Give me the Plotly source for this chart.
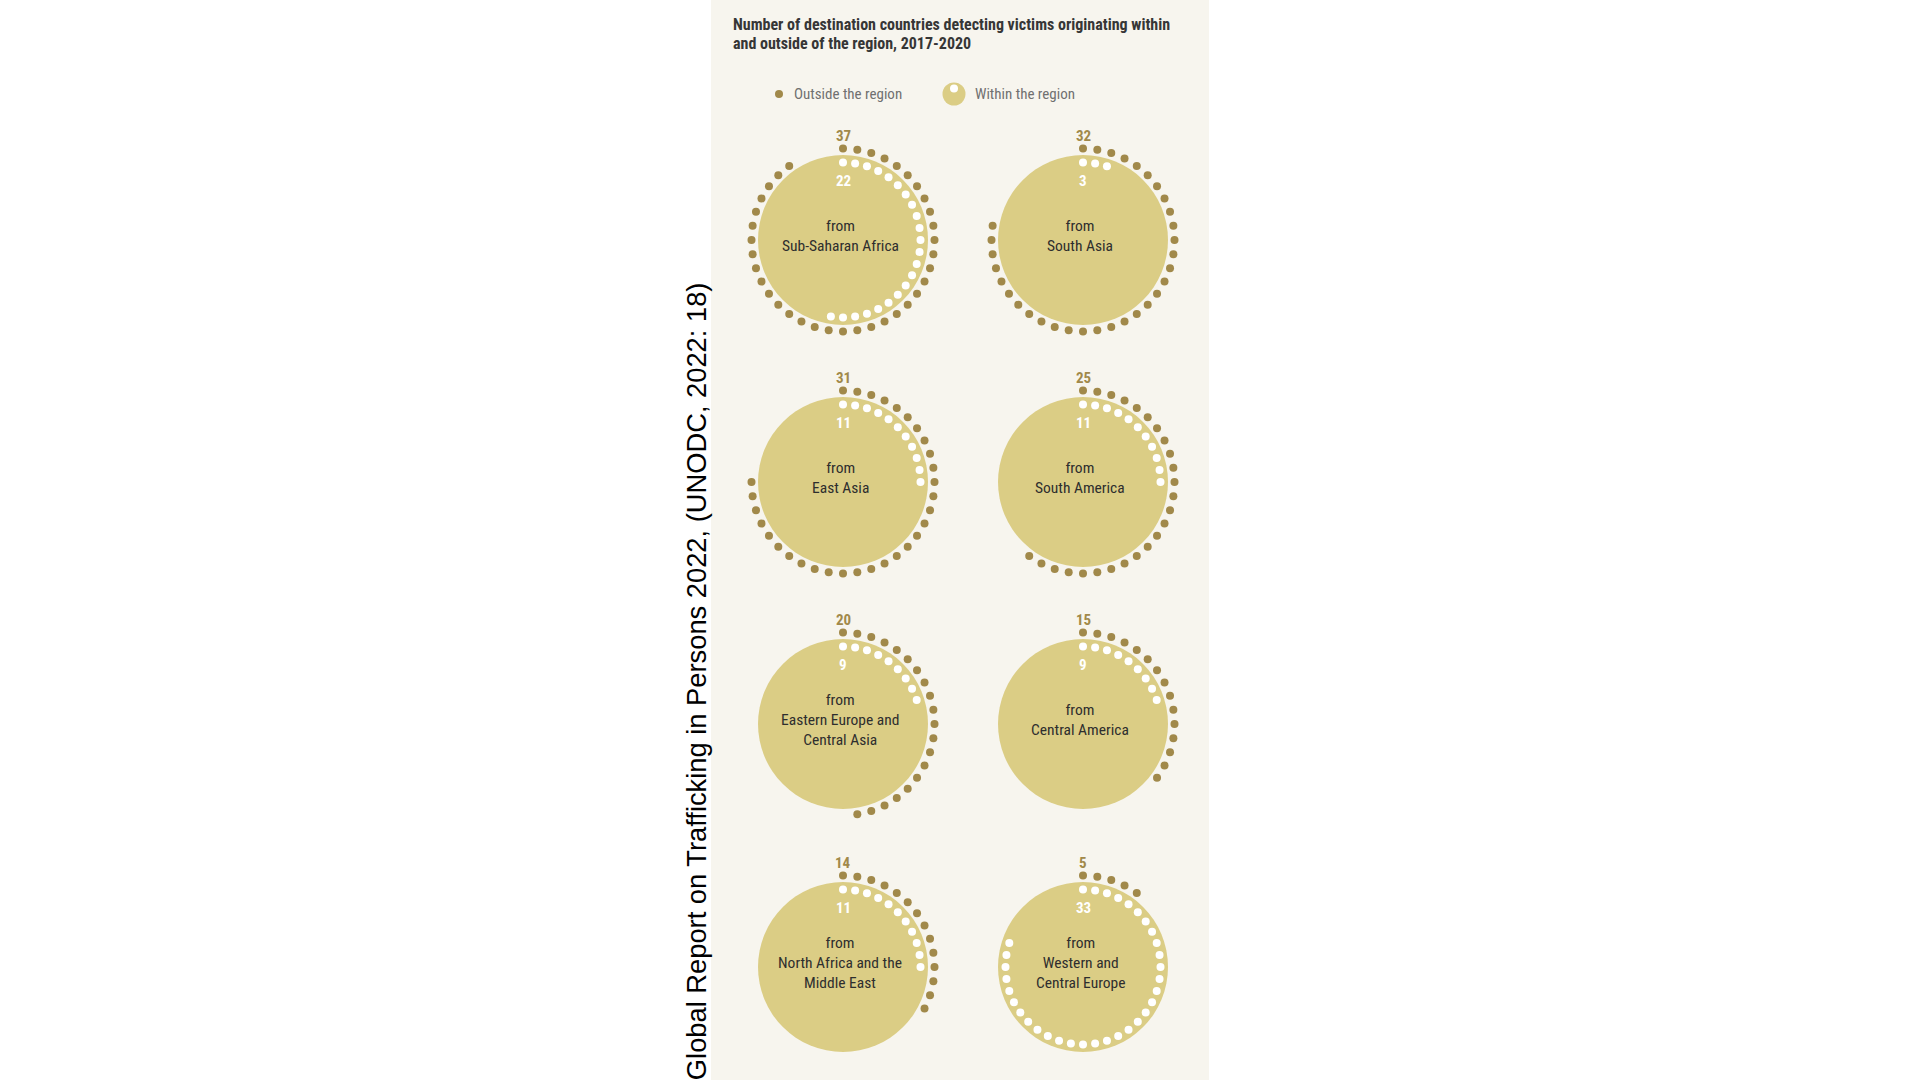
import math
import plotly.graph_objects as go

# ---------------- data ----------------
regions = [
    "from<br>Sub-Saharan Africa",
    "from<br>South Asia",
    "from<br>East Asia",
    "from<br>South America",
    "from<br>Eastern Europe and<br>Central Asia",
    "from<br>Central America",
    "from<br>North Africa and the<br>Middle East",
    "from<br>Western and<br>Central Europe",
]
outside_region = [37, 32, 31, 25, 20, 15, 14, 5]
within_region = [22, 3, 11, 11, 9, 9, 11, 33]

title_lines = ["Number of destination countries detecting victims originating within",
               "and outside of the region, 2017-2020"]
legend_labels = ["Outside the region", "Within the region"]
source_text = "Global Report on Trafficking in Persons 2022, (UNODC, 2022: 18)"

# ---------------- style / layout ----------------
W, H = 1920, 1080
PANEL_BG = "#F7F5EE"
CIRCLE = "#DBCD85"
DOT = "#A1894A"
TEXT = "#2E2E2E"
COND = "Liberation Sans Narrow, Roboto Condensed, Roboto, sans-serif"

col_x = [843, 1083]
row_y = [240, 482, 724, 967]
R_CIRCLE = 85
R_OUT = 91.5
R_IN = 77.5
STEP = 9.0  # degrees per dot
DOT_SIZE = 8

fig = go.Figure()

shapes = [dict(type="rect", xref="x", yref="y", x0=711, x1=1209, y0=0, y1=H,
               fillcolor=PANEL_BG, line=dict(width=0), layer="below")]
annotations = []

for i, (lab, n_out, n_in) in enumerate(zip(regions, outside_region, within_region)):
    cx = col_x[i % 2]
    cy = row_y[i // 2]
    shapes.append(dict(type="circle", xref="x", yref="y",
                       x0=cx - R_CIRCLE, x1=cx + R_CIRCLE,
                       y0=cy - R_CIRCLE, y1=cy + R_CIRCLE,
                       fillcolor=CIRCLE, line=dict(width=0), layer="below"))
    ox = [cx + R_OUT * math.sin(math.radians(k * STEP)) for k in range(n_out)]
    oy = [cy - R_OUT * math.cos(math.radians(k * STEP)) for k in range(n_out)]
    ix = [cx + R_IN * math.sin(math.radians(k * STEP)) for k in range(n_in)]
    iy = [cy - R_IN * math.cos(math.radians(k * STEP)) for k in range(n_in)]
    fig.add_trace(go.Scatter(x=ox, y=oy, mode="markers",
                             marker=dict(size=DOT_SIZE, color=DOT, line=dict(width=0)),
                             hoverinfo="skip", showlegend=False))
    fig.add_trace(go.Scatter(x=ix, y=iy, mode="markers",
                             marker=dict(size=DOT_SIZE, color="white", line=dict(width=0)),
                             hoverinfo="skip", showlegend=False))
    annotations.append(dict(x=cx, y=cy - 104, xref="x", yref="y", text=f"<b>{n_out}</b>",
                            showarrow=False, font=dict(family=COND, size=15, color=DOT),
                            xanchor="center", yanchor="middle"))
    annotations.append(dict(x=cx, y=cy - 59, xref="x", yref="y", text=f"<b>{n_in}</b>",
                            showarrow=False, font=dict(family=COND, size=15, color="white"),
                            xanchor="center", yanchor="middle"))
    annotations.append(dict(x=cx - 3, y=cy - 4, xref="x", yref="y", text=lab,
                            showarrow=False, font=dict(family=COND, size=15.5, color=TEXT),
                            xanchor="center", yanchor="middle", align="center"))

# legend
fig.add_trace(go.Scatter(x=[779], y=[94], mode="markers",
                         marker=dict(size=DOT_SIZE, color=DOT), hoverinfo="skip", showlegend=False))
fig.add_trace(go.Scatter(x=[954], y=[94], mode="markers",
                         marker=dict(size=23, color=CIRCLE), hoverinfo="skip", showlegend=False))
fig.add_trace(go.Scatter(x=[954], y=[88.5], mode="markers",
                         marker=dict(size=8, color="white"), hoverinfo="skip", showlegend=False))
annotations.append(dict(x=792, y=94, xref="x", yref="y", text=legend_labels[0], showarrow=False,
                        font=dict(family=COND, size=15, color="#707070"),
                        xanchor="left", yanchor="middle"))
annotations.append(dict(x=973, y=94, xref="x", yref="y", text=legend_labels[1], showarrow=False,
                        font=dict(family=COND, size=15, color="#707070"),
                        xanchor="left", yanchor="middle"))

# title (two lines)
for j, line in enumerate(title_lines):
    annotations.append(dict(x=731, y=24.5 + 18.5 * j, xref="x", yref="y", text=f"<b>{line}</b>",
                            showarrow=False, font=dict(family=COND, size=16, color="#363636"),
                            xanchor="left", yanchor="middle", align="left"))

# vertical source text
annotations.append(dict(x=696, y=-0.002, xref="x", yref="paper", text=source_text, showarrow=False,
                        textangle=-90, font=dict(family="Liberation Sans, Arial, sans-serif",
                                                 size=27.3, color="black"),
                        xanchor="center", yanchor="bottom"))

fig.update_layout(
    width=W, height=H,
    margin=dict(l=0, r=0, t=0, b=0),
    paper_bgcolor="white", plot_bgcolor="white",
    xaxis=dict(range=[0, W], visible=False, fixedrange=True),
    yaxis=dict(range=[H, 0], visible=False, fixedrange=True),
    shapes=shapes, annotations=annotations,
    hovermode=False,
)

fig.write_html("out.html", config={"displayModeBar": False},
               post_script="document.body.style.margin='0';document.body.style.overflow='hidden';")
